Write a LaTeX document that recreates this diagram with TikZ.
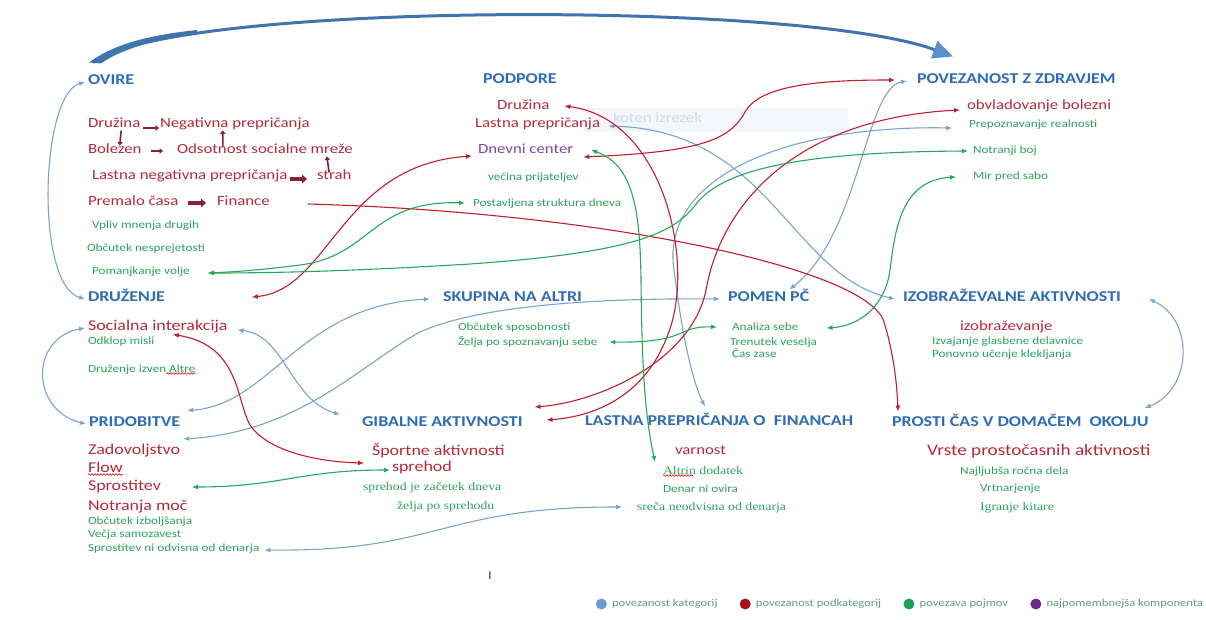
\documentclass[tikz,border=0pt]{standalone}
\usepackage{fontspec}
\usetikzlibrary{arrows.meta,calc,decorations.pathmorphing}
\newfontfamily\carl[FakeStretch=1.2]{Carlito}
\newfontfamily\lserif[FakeStretch=1.2]{Liberation Serif}
\definecolor{hblue}{HTML}{2E6DB4}
\definecolor{tred}{HTML}{B52A3A}
\definecolor{tgreen}{HTML}{2BA35B}
\definecolor{tpurple}{HTML}{7B46A9}
\definecolor{lblue}{HTML}{7AA3CF}
\definecolor{lred}{HTML}{BD1F2D}
\definecolor{lgreen}{HTML}{27A75A}
\definecolor{maroon}{HTML}{8A1E36}
\definecolor{bigblue}{HTML}{3F74AD}
\definecolor{bighead}{HTML}{5B8FCB}
\definecolor{legblue}{HTML}{6C9BD2}
\definecolor{legred}{HTML}{A50F1E}
\definecolor{leggreen}{HTML}{1E9E5A}
\definecolor{legpurple}{HTML}{6A2C91}
\definecolor{legtext}{HTML}{5FA07A}
\definecolor{faintfill}{HTML}{F3F6FA}
\definecolor{fainttext}{HTML}{D3DBE4}
\tikzset{
  base/.style={anchor=west,inner sep=0pt,outer sep=0pt,text height=0.7em,text depth=0.2em},
  hdr/.style={base,text=hblue,font=\carl\bfseries\fontsize{15}{18}\selectfont},
  sub/.style={base,text=tred,font=\carl\fontsize{14}{16}\selectfont},
  subL/.style={base,text=tred,font=\carl\fontsize{15}{17}\selectfont},
  subXL/.style={base,text=tred,font=\carl\fontsize{16}{18}\selectfont},
  purp/.style={base,text=tpurple,font=\carl\fontsize{14}{16}\selectfont},
  itm/.style={base,text=tgreen,font=\carl\fontsize{11}{13}\selectfont},
  itms/.style={base,text=tgreen,font=\lserif\fontsize{11.5}{13}\selectfont},
  legtxt/.style={base,text=legtext,font=\carl\fontsize{10.5}{12}\selectfont},
  ldot/.style={circle,inner sep=0pt,minimum size=11pt,fill=#1},
  tip/.style={>={Latex[length=6pt,width=5pt]}},
  cb/.style={tip,line width=1.1pt,draw=lblue,<->},
  cr/.style={tip,line width=1.1pt,draw=lred,<->},
  crone/.style={tip,line width=1.1pt,draw=lred,->},
  cg/.style={tip,line width=1.1pt,draw=lgreen,<->},
  blockthin/.style={draw=maroon,line width=1.6pt,-{Triangle[length=3.5pt,width=5.5pt]}},
  blockthick/.style={draw=maroon,line width=3.2pt,-{Triangle[length=5pt,width=8.5pt]}},
  spell/.style={draw=red!85!black,line width=0.6pt,decorate,decoration={snake,amplitude=0.8pt,segment length=3pt}},
  bigarrow/.style={draw=bigblue,line width=3pt,-{Triangle[length=20pt,width=18pt,fill=bighead,color=bighead]}}
}
\begin{document}
\begin{tikzpicture}[x=1pt,y=-1pt]
\useasboundingbox (0,0) rectangle (1206,620);
% faint snipping-tool box
\fill[faintfill] (583,108) rectangle (848,132);
\node[base,text=fainttext,font=\carl\fontsize{14}{16}\selectfont] (snip) at (613,120) {koten izrezek};

% ---------- headers ----------
\node[hdr] (ovire) at (88,82) {OVIRE};
\node[hdr] (podpore) at (483,81) {PODPORE};
\node[hdr] (povez) at (917,81) {POVEZANOST Z ZDRAVJEM};
\node[hdr] (druzenje) at (88,299) {DRUŽENJE};
\node[hdr] (skupina) at (443,299) {SKUPINA NA ALTRI};
\node[hdr] (pomen) at (728,299) {POMEN PČ};
\node[hdr] (izobr) at (903,299) {IZOBRAŽEVALNE AKTIVNOSTI};
\node[hdr] (pridob) at (89,424) {PRIDOBITVE};
\node[hdr] (gibalne) at (362,424) {GIBALNE AKTIVNOSTI};
\node[hdr] (lastnafin) at (585,423) {LASTNA PREPRIČANJA O~ FINANCAH};
\node[hdr] (prosti) at (892,424) {PROSTI ČAS V DOMAČEM~ OKOLJU};

% ---------- OVIRE ----------
\node[sub] (o1) at (88,125) {Družina};
\node[sub] (o2) at (160,125) {Negativna prepričanja};
\node[sub] (o3) at (88,151) {Bolezen};
\node[sub] (o4) at (177,151) {Odsotnost socialne mreže};
\node[sub] (o5) at (92,177) {Lastna negativna prepričanja};
\node[sub] (o6) at (317,177) {strah};
\node[sub] (o7) at (88,203) {Premalo časa};
\node[sub] (o8) at (217,203) {Finance};
\node[itm] (o9) at (92,226) {Vpliv mnenja drugih};
\node[itm] (o10) at (87,249) {Občutek nesprejetosti};
\node[itm] (o11) at (92,272) {Pomanjkanje volje};

% ---------- PODPORE ----------
\node[sub] (p1) at (497,107) {Družina};
\node[sub] (p2) at (475,125) {Lastna prepričanja};
\node[purp] (p3) at (478,151) {Dnevni center};
\node[itm] (p4) at (488,178) {večina prijateljev};
\node[itm] (p5) at (473,204) {Postavljena struktura dneva};

% ---------- POVEZANOST ----------
\node[sub] (z1) at (967,107) {obvladovanje bolezni};
\node[itm] (z2) at (969,125) {Prepoznavanje realnosti};
\node[itm] (z3) at (973,151) {Notranji boj};
\node[itm] (z4) at (973,177) {Mir pred sabo};

% ---------- DRUŽENJE ----------
\node[subL] (d1) at (88,328) {Socialna interakcija};
\node[itm] (d2) at (88,342) {Odklop misli};
\node[itm] (d3) at (88,370) {Druženje izven Altre};

% ---------- SKUPINA ----------
\node[itm] (s1) at (458,328) {Občutek sposobnosti};
\node[itm] (s2) at (458,343) {Želja po spoznavanju sebe};

% ---------- POMEN ----------
\node[itm] (m1) at (732,328) {Analiza sebe};
\node[itm] (m2) at (730,343) {Trenutek veselja};
\node[itm] (m3) at (732,355) {Čas zase};

% ---------- IZOBRAŽEVALNE ----------
\node[sub] (i1) at (960,328) {izobraževanje};
\node[itm] (i2) at (932,342) {Izvajanje glasbene delavnice};
\node[itm] (i3) at (932,355) {Ponovno učenje klekljanja};

% ---------- PRIDOBITVE ----------
\node[subL] (r1) at (88,452) {Zadovoljstvo};
\node[subL] (r2) at (88,470) {Flow};
\node[subL] (r3) at (88,488) {Sprostitev};
\node[subL] (r4) at (88,508) {Notranja moč};
\node[itm] (r5) at (88,522) {Občutek izboljšanja};
\node[itm] (r6) at (88,535) {Večja samozavest};
\node[itm] (r7) at (88,549) {Sprostitev ni odvisna od denarja};

% ---------- GIBALNE ----------
\node[subL] (g1) at (372,453) {Športne aktivnosti};
\node[subL] (g2) at (392,469) {sprehod};
\node[itms] (g3) at (363,488) {sprehod je začetek dneva};
\node[itms] (g4) at (397,507) {želja po sprehodu};

% ---------- FINANCE ----------
\node[sub] (f1) at (675,452) {varnost};
\node[itms] (f2) at (663,472) {Altrin dodatek};
\node[itm] (f3) at (663,490) {Denar ni ovira};
\node[itms] (f4) at (637,508) {sreča neodvisna od denarja};

% ---------- PROSTI ČAS ----------
\node[subXL] (v1) at (927,453) {Vrste prostočasnih aktivnosti};
\node[itm] (v2) at (960,472) {Najljubša ročna dela};
\node[itm] (v3) at (980,489) {Vrtnarjenje};
\node[itms] (v4) at (980,508) {Igranje kitare};

% cursor
\node[base,text=black!75,font=\carl\fontsize{12}{14}\selectfont] (cursor) at (488,577) {I};

% spell-check underlines
\draw[spell] ($(r2.south west)+(0,0)$) -- ($(r2.south east)+(0,0)$);
\draw[spell] ($(d3.south east)+(-29,-1)$) -- ($(d3.south east)+(0,-1)$);
\draw[spell] ($(f2.south west)+(0,-1)$) -- ($(f2.south west)+(30,-1)$);

% ---------- small block arrows in OVIRE ----------
\draw[blockthin] ($(o1.east)+(3,3)$) -- ($(o2.west)+(-1,3)$);
\draw[blockthin] ($(o1.south)+(7,1)$) -- ($(o3.north)+(5,-1)$);
\draw[blockthin] ($(o4.north)+(-42,0)$) -- ($(o2.south)+(-12,1)$);
\draw[blockthin] ($(o3.east)+(10,0)$) -- ($(o4.west)+(-14,0)$);
\draw[blockthin] ($(o6.north)+(-5,0)$) -- ($(o4.south)+(62,1)$);
\draw[blockthick] ($(o5.east)+(3,2)$) -- ($(o6.west)+(-10,2)$);
\draw[blockthick] ($(o7.east)+(10,0)$) -- ($(o8.west)+(-11,0)$);

% ---------- big top arrow ----------
\coordinate (bigS) at ($(ovire.north west)+(5,-15)$);
\coordinate (bigE) at ($(povez.north west)+(36,-20)$);
\fill[bigblue] ($(bigS)+(-4,0)$) .. controls (110,47) and (140,36) .. (197,30) -- (197,33) .. controls (140,42) and (114,54) .. ($(bigS)+(8,1)$) -- cycle;
\draw[bigarrow] (bigS) .. controls (170,2) and (800,0) .. (bigE);

% ---------- blue connectors ----------
\draw[cb] ($(ovire.west)+(-3,0)$) .. controls (40,95) and (35,285) .. ($(druzenje.west)+(-3,0)$);
\draw[cb] ($(d1.west)+(-3,0)$) .. controls (30,338) and (30,410) .. ($(pridob.west)+(-3,0)$);
\draw[cb] ($(d1.east)+(10,2)$) .. controls (285,335) and (290,400) .. ($(gibalne.north west)+(-22,-5)$);
\draw[cb] ($(pridob.north east)+(7,-9)$) .. controls (270,405) and (300,305) .. ($(skupina.west)+(-13,0)$);
\draw[cb] ($(pridob.east)+(3,15)$) .. controls (300,432) and (360,365) .. (420,332) .. controls (480,305) and (600,298) .. ($(pomen.west)+(-8,0)$);
\draw[cb] ($(p2.east)+(8,1)$) .. controls (770,130) and (790,275) .. ($(izobr.west)+(-8,0)$);
\draw[cb] ($(povez.west)+(-10,0)$) .. controls (865,88) and (860,235) .. ($(pomen.north east)+(-20,-5)$);
\draw[cb] ($(z2.west)+(-17,3)$) .. controls (790,125) and (660,175) .. (674,270) .. controls (682,335) and (692,380) .. ($(lastnafin.north west)+(120,-12)$);
\draw[cb] ($(izobr.east)+(28,0)$) .. controls (1195,320) and (1192,390) .. ($(prosti.east)+(-4,-16)$);
\draw[cb] ($(r7.east)+(5,1)$) .. controls (440,552) and (440,507) .. ($(f4.west)+(-15,-1)$);

% ---------- red connectors ----------
\draw[cr] ($(druzenje.east)+(87,-2)$) .. controls (330,290) and (340,165) .. ($(p3.west)+(-6,5)$);
\draw[cr] ($(p3.east)+(10,6)$) .. controls (700,152) and (730,140) .. (745,112) .. controls (760,85) and (820,80) .. ($(povez.west)+(-22,-1)$);
\draw[cr] ($(p1.east)+(15,-1)$) .. controls (660,118) and (692,250) .. (672,322) .. controls (652,392) and (600,416) .. ($(gibalne.east)+(24,-4)$);
\draw[cr] ($(z1.west)+(-7,3)$) .. controls (800,118) and (722,200) .. (706,290) .. controls (692,360) and (600,402) .. ($(gibalne.east)+(12,-17)$);
\draw[crone] ($(o8.east)+(38,1)$) .. controls (600,212) and (868,268) .. (884,322) .. controls (894,355) and (897,385) .. ($(prosti.north west)+(6,-8)$);
\draw[cr] ($(d1.south)+(15,2)$) .. controls (240,345) and (236,400) .. (250,425) .. controls (268,452) and (320,462) .. ($(g2.west)+(-28,-6)$);

% ---------- green connectors ----------
\draw[cg] ($(p5.west)+(-8,-1)$) .. controls (370,200) and (372,256) .. (300,265) .. controls (262,270) and (232,272) .. ($(o11.east)+(18,1)$);
\draw[cg] ($(z3.west)+(-5,0)$) .. controls (790,152) and (722,172) .. (697,203) .. controls (675,232) and (640,252) .. (470,264) .. controls (340,272) and (260,273) .. ($(o11.east)+(18,1)$);
\draw[cg] ($(p3.east)+(18,-1)$) .. controls (632,165) and (640,205) .. (641,280) .. controls (642,380) and (646,420) .. ($(f2.west)+(-8,-10)$);
\draw[cg] ($(z4.west)+(-17,0)$) .. controls (900,180) and (895,232) .. (890,270) .. controls (885,306) and (860,326) .. ($(m1.east)+(28,0)$);
\draw[cg] ($(m1.west)+(-15,-1)$) .. controls (675,326) and (690,343) .. ($(s2.east)+(12,-1)$);
\draw[cg] ($(r3.east)+(31,-1)$) .. controls (280,487) and (300,470) .. ($(g2.west)+(-2,1)$);

% ---------- legend (built from the right edge) ----------
\node[legtxt,anchor=east] (lt4) at (1203,604) {najpomembnejša komponenta};
\node[ldot=legpurple,anchor=east] (ld4) at ($(lt4.west)+(-5,0)$) {};
\node[legtxt,anchor=east] (lt3) at ($(ld4.west)+(-22,0)$) {povezava pojmov};
\node[ldot=leggreen,anchor=east] (ld3) at ($(lt3.west)+(-5,0)$) {};
\node[legtxt,anchor=east] (lt2) at ($(ld3.west)+(-22,0)$) {povezanost podkategorij};
\node[ldot=legred,anchor=east] (ld2) at ($(lt2.west)+(-5,0)$) {};
\node[legtxt,anchor=east] (lt1) at ($(ld2.west)+(-22,0)$) {povezanost kategorij};
\node[ldot=legblue,anchor=east] (ld1) at ($(lt1.west)+(-5,0)$) {};
\end{tikzpicture}
\end{document}
